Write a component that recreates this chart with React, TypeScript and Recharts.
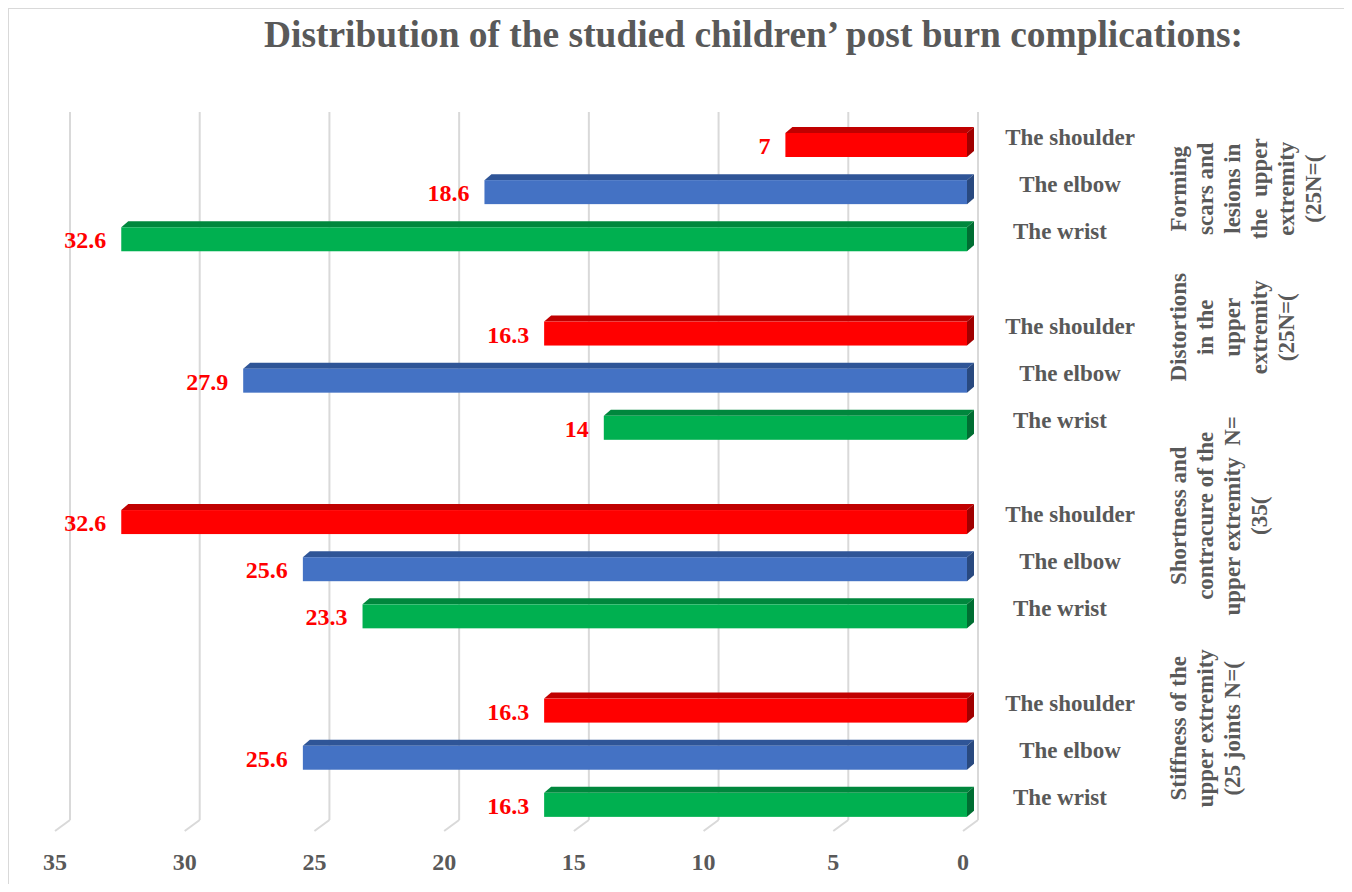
import React from 'react'
import { BarChart, Bar, XAxis, YAxis, CartesianGrid } from 'recharts'

// categories shown on the right axis, top to bottom inside each group
const JOINTS = ['The shoulder', 'The elbow', 'The wrist']

// group captions, one array entry per (rotated) line
const GROUP_LABELS = [
  ['Forming', 'scars and', 'lesions in', 'the  upper', 'extremity', '(25N=('],
  ['Distortions', 'in the', 'upper', 'extremity', '(25N=('],
  ['Shortness and', 'contracure of the', 'upper extremity  N=', '(35('],
  ['Stiffness of the', 'upper extremity', '(25 joints N=('],
]

// % values per group: shoulder, elbow, wrist
const FORMING_SCARS = [7, 18.6, 32.6]
const DISTORTIONS = [16.3, 27.9, 14]
const SHORTNESS = [32.6, 25.6, 23.3]
const STIFFNESS = [16.3, 25.6, 16.3]

const X_TICKS = [0, 5, 10, 15, 20, 25, 30, 35]

const GROUP_VALUES = [FORMING_SCARS, DISTORTIONS, SHORTNESS, STIFFNESS]

// one row per bar, plus an empty row between groups
const ROWS: any[] = []
GROUP_VALUES.forEach((vals, g) => {
  vals.forEach((v, j) => {
    ROWS.push({ key: `g${g}-${j}`, group: g, joint: j, value: v })
  })
  if (g < GROUP_VALUES.length - 1) ROWS.push({ key: `gap${g}`, group: g, joint: null, value: null })
})

const FONT = '"Liberation Serif", "Times New Roman", serif'
const TEXT_GRAY = '#595959'
const GRID_GRAY = '#D9D9D9'

const FACE = ['#FF0000', '#4472C4', '#00B050']
const TOP = ['#C00000', '#2F5597', '#00873D']
const SIDE = ['#A00000', '#29497F', '#006E32']

const DEPTH_X = 7
const DEPTH_Y = 6
const GRID_SHIFT = 11
// captions are not centred exactly on their group in the source
const GROUP_LABEL_SHIFT = [0, -50, -50, -26]
const JOINT_LABEL_SHIFT = [0, 0, -10]

function Bar3D(props: any) {
  const { x, y, width, height, payload } = props
  if (!payload || payload.value == null || !width) return null
  const left = Math.min(x, x + width)
  const right = Math.max(x, x + width)
  const j = payload.joint
  const top = y + DEPTH_Y
  const bottom = y + height
  return (
    <g>
      <polygon
        points={`${left},${top} ${left + DEPTH_X},${y} ${right + DEPTH_X},${y} ${right},${top}`}
        fill={TOP[j]}
      />
      <polygon
        points={`${right},${top} ${right + DEPTH_X},${y} ${right + DEPTH_X},${bottom - DEPTH_Y} ${right},${bottom}`}
        fill={SIDE[j]}
      />
      <rect x={left} y={top} width={right - left} height={bottom - top} fill={FACE[j]} />
      <text
        x={left - 15}
        y={(top + bottom) / 2 + 1}
        textAnchor="end"
        dominantBaseline="central"
        fill="#FF0000"
        fontSize={24}
        fontWeight="bold"
        fontFamily={FONT}
      >
        {String(payload.value)}
      </text>
    </g>
  )
}

function RowTick(props: any) {
  const { x, y, payload } = props
  const row = ROWS.find(r => r.key === payload.value)
  if (!row || row.joint == null) return null
  const lines = GROUP_LABELS[row.group]
  const cx = x + 211
  const cy = y + GROUP_LABEL_SHIFT[row.group]
  return (
    <g>
      <text
        x={x + 103 + JOINT_LABEL_SHIFT[row.joint]}
        y={y - 4}
        textAnchor="middle"
        dominantBaseline="central"
        fill={TEXT_GRAY}
        fontSize={23}
        fontWeight="bold"
        fontFamily={FONT}
      >
        {JOINTS[row.joint]}
      </text>
      {row.joint === 1 && (
        <text
          transform={`rotate(-90, ${cx}, ${cy})`}
          x={cx}
          y={cy}
          textAnchor="middle"
          dominantBaseline="central"
          fill={TEXT_GRAY}
          fontSize={23}
          fontWeight="bold"
          fontFamily={FONT}
          style={{ whiteSpace: 'pre' }}
        >
          {lines.map((line, i) => (
            <tspan key={i} x={cx} dy={i === 0 ? 0 : 27}>{line}</tspan>
          ))}
        </text>
      )}
    </g>
  )
}

function AxisTick(props: any) {
  const { x, y, payload } = props
  return (
    <g>
      <line x1={x + GRID_SHIFT} y1={y - 5} x2={x - 4} y2={y + 6} stroke={GRID_GRAY} strokeWidth={2} />
      <text
        x={x - 4}
        y={y + 37}
        textAnchor="middle"
        dominantBaseline="central"
        fill={TEXT_GRAY}
        fontSize={24}
        fontWeight="bold"
        fontFamily={FONT}
      >
        {payload.value}
      </text>
    </g>
  )
}

export default function App() {
  return (
    <div style={{ position: 'relative', width: 1336, height: 876, fontFamily: FONT, background: '#fff' }}>
      <div
        style={{
          position: 'absolute',
          inset: 0,
          borderLeft: `1px solid ${GRID_GRAY}`,
          borderTop: `1px solid ${GRID_GRAY}`,
          pointerEvents: 'none',
        }}
      />
      <div style={{ position: 'absolute', left: 0, top: 0 }}>
        <BarChart
          width={1336}
          height={876}
          data={ROWS}
          layout="vertical"
          margin={{ top: 110, right: 7, left: 51, bottom: 9 }}
          barCategoryGap={0}
        >
          <CartesianGrid
            horizontal={false}
            stroke={GRID_GRAY}
            strokeWidth={2}
            y={104}
            height={708}
            verticalCoordinatesGenerator={({ xAxis, offset }: any) =>
              X_TICKS.map(t =>
                (xAxis && typeof xAxis.scale === 'function'
                  ? xAxis.scale(t)
                  : offset.left + offset.width * (1 - t / 35)) + GRID_SHIFT
              )
            }
          />
          <XAxis
            type="number"
            domain={[0, 35]}
            ticks={X_TICKS}
            reversed
            axisLine={false}
            tickLine={false}
            tickSize={0}
            tickMargin={0}
            height={50}
            interval={0}
            tick={<AxisTick />}
          />
          <YAxis
            type="category"
            dataKey="key"
            orientation="right"
            width={370}
            axisLine={false}
            tickLine={false}
            tickSize={0}
            tickMargin={0}
            interval={0}
            tick={<RowTick />}
          />
          <Bar dataKey="value" barSize={30} shape={<Bar3D />} isAnimationActive={false} />
        </BarChart>
      </div>
      <svg
        width={1336}
        height={70}
        style={{ position: 'absolute', left: 0, top: 0, pointerEvents: 'none' }}
      >
        <text
          x={256}
          y={39}
          textLength={979}
          lengthAdjust="spacingAndGlyphs"
          fill={TEXT_GRAY}
          fontSize={37}
          fontWeight="bold"
          fontFamily={FONT}
        >
          Distribution of the studied children’ post burn complications:
        </text>
      </svg>
    </div>
  )
}
